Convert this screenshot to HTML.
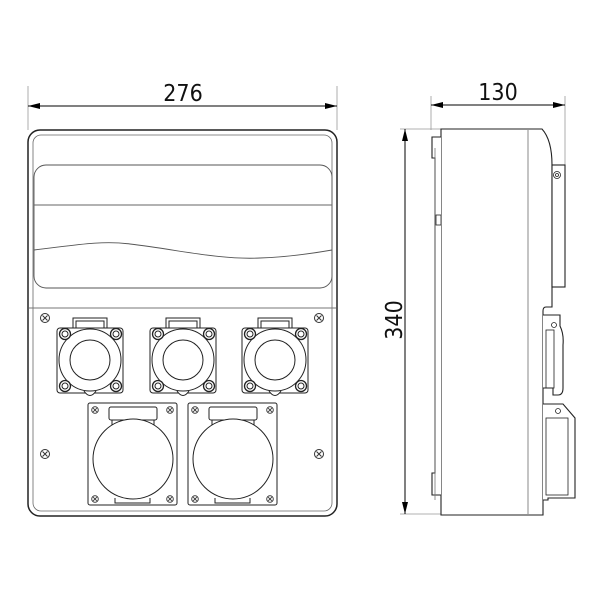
<!DOCTYPE html>
<html><head><meta charset="utf-8"><style>
html,body{margin:0;padding:0;background:#fff;}
svg{display:block;}
text{font-family:"DejaVu Sans Condensed","Liberation Sans Narrow","Liberation Sans",sans-serif;font-weight:normal;fill:#111;}
</style></head><body>
<svg width="600" height="600" viewBox="0 0 600 600" xmlns="http://www.w3.org/2000/svg">
<defs>
<marker id="ar" viewBox="0 0 12 6" refX="12" refY="3" markerWidth="12" markerHeight="6" orient="auto-start-reverse" markerUnits="userSpaceOnUse">
<path d="M0,0 L12,3 L0,6 Z" fill="#000"/></marker>
<g id="scr"><circle r="4.5" fill="#fff" stroke="#333" stroke-width="1"/><path d="M-2.5,-2.5L2.5,2.5M-2.5,2.5L2.5,-2.5" stroke="#333" stroke-width="1"/></g>
<g id="sscr"><circle r="3.3" fill="#fff" stroke="#333" stroke-width="0.9"/><path d="M-1.8,-1.8L1.8,1.8M-1.8,1.8L1.8,-1.8" stroke="#333" stroke-width="0.9"/></g>
<g id="cs"><circle r="5.5" fill="#fff" stroke="#222" stroke-width="1.3"/><circle r="3" fill="none" stroke="#222" stroke-width="1"/></g>
<g id="small" fill="none" stroke="#222" stroke-width="1">
<path d="M-17,-32 V-42 H17 V-32" fill="#fff"/>
<path d="M-14,-32 V-39 H14 V-32"/>
<rect x="-33" y="-32" width="66" height="65" rx="3" fill="#fff"/>
<path d="M-6,31 Q0,40 6,31" fill="#fff"/>
<circle r="31" fill="#fff"/>
<circle r="20"/>
<use href="#cs" x="-25" y="-26"/><use href="#cs" x="26" y="-26"/>
<use href="#cs" x="-25" y="26"/><use href="#cs" x="26" y="26"/>
</g>
<g id="big" fill="none" stroke="#222" stroke-width="1">
<rect x="-45" y="-56" width="89" height="102" rx="2" fill="#fff"/>
<rect x="-24" y="-52" width="48" height="13" rx="2" fill="#fff"/>
<path d="M-21,-39 V-30 M21,-39 V-30"/>
<path d="M-18,39 V44 H17 V39" fill="#fff"/>
<circle r="40" fill="#fff"/>
<use href="#sscr" x="-38" y="-49"/><use href="#sscr" x="37" y="-49"/>
<use href="#sscr" x="-38" y="40"/><use href="#sscr" x="37" y="40"/>
</g>
</defs>

<line x1="28" y1="86" x2="28" y2="130" stroke="#999" stroke-width="0.8"/>
<line x1="337" y1="86" x2="337" y2="130" stroke="#999" stroke-width="0.8"/>
<line x1="28" y1="106" x2="337" y2="106" stroke="#000" stroke-width="1" marker-start="url(#ar)" marker-end="url(#ar)"/>
<text x="183" y="101" font-size="23" text-anchor="middle">276</text>

<rect x="28" y="130" width="309" height="386" rx="12" fill="#fff" stroke="#222" stroke-width="1.5"/>
<rect x="33" y="135" width="299" height="376" rx="8" fill="none" stroke="#666" stroke-width="0.8"/>
<rect x="34" y="165" width="298" height="123" rx="12" fill="none" stroke="#555" stroke-width="0.9"/>
<line x1="34" y1="205" x2="332" y2="205" stroke="#666" stroke-width="1"/>
<path d="M34,250 C70,246 100,240 130,244 C180,250 220,260 260,258 C290,257 315,253 332,250" fill="none" stroke="#555" stroke-width="0.9"/>
<line x1="29" y1="308" x2="336" y2="308" stroke="#777" stroke-width="1"/>

<use href="#scr" x="45" y="318"/><use href="#scr" x="319" y="318"/>
<use href="#scr" x="45" y="454"/><use href="#scr" x="319" y="454"/>

<use href="#small" x="90" y="360"/>
<use href="#small" x="183" y="360"/>
<use href="#small" x="275" y="360"/>
<use href="#big" x="133" y="459"/>
<use href="#big" x="233" y="459"/>

<line x1="431" y1="96" x2="431" y2="130" stroke="#999" stroke-width="0.8"/>
<line x1="565" y1="96" x2="565" y2="165" stroke="#999" stroke-width="0.8"/>
<line x1="431" y1="105" x2="565" y2="105" stroke="#000" stroke-width="1" marker-start="url(#ar)" marker-end="url(#ar)"/>
<text x="498" y="100" font-size="23" text-anchor="middle">130</text>
<line x1="400" y1="129" x2="441" y2="129" stroke="#999" stroke-width="0.8"/>
<line x1="400" y1="514" x2="441" y2="514" stroke="#999" stroke-width="0.8"/>
<line x1="405" y1="129" x2="405" y2="514" stroke="#000" stroke-width="1" marker-start="url(#ar)" marker-end="url(#ar)"/>
<text transform="translate(402,320) rotate(-90)" font-size="23" text-anchor="middle">340</text>

<g fill="none" stroke="#222" stroke-width="1.1">
<path d="M441,129 H542 Q552,140 552,165 V287 H552 V307 H546 Q543,307 543,311 V515 H441 Z" fill="#fff"/>
<line x1="528" y1="130" x2="528" y2="514" stroke="#888" stroke-width="1"/>
<path d="M441,137 H432 V158 H435 V473 H432 V495 H441" fill="#fff"/>
<path d="M435,148 V500" stroke="#777" stroke-width="0.8"/>
<rect x="436" y="215" width="5" height="10" stroke-width="0.8"/>
<rect x="552" y="165" width="13" height="122" fill="#fff"/>
<circle cx="557" cy="175" r="3.5" stroke-width="0.8"/>
<circle cx="557" cy="175" r="1.5" stroke-width="0.8"/>
<path d="M543,315 H560 V326 Q564,334 563,345 V388 Q563,395 558,395 H553 V388 H543" fill="#fff"/>
<rect x="546" y="330" width="8" height="58" stroke-width="0.8"/>
<circle cx="554" cy="325" r="2.5" stroke-width="0.8"/>
<path d="M543,404 H563 L575,418 V498 H548 V500 H543" fill="#fff"/>
<rect x="546" y="418" width="22" height="77" stroke-width="0.8"/>
<circle cx="558" cy="411" r="2.5" stroke-width="0.8"/>
</g>
</svg>
</body></html>
